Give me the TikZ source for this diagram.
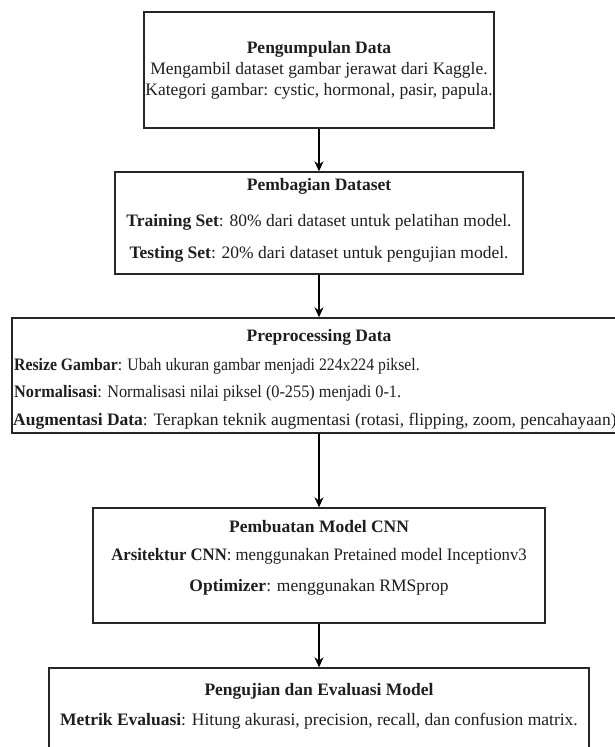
\documentclass[tikz,border=0pt]{standalone}
\usepackage{graphicx}
\usepackage{fontspec}
\setmainfont{Liberation Serif}
\usetikzlibrary{arrows.meta}
\begin{document}
\begin{tikzpicture}[x=1pt,y=-1pt,
  box/.style={draw=black!85,line width=1.4pt,inner sep=0pt,fill=none},
  txt/.style={inner sep=0pt,text height=12pt,text depth=4pt,font=\fontsize{17.5}{21}\selectfont,text=black!88},
  ttl/.style={txt,font=\fontsize{17.5}{21}\selectfont\bfseries},
  lft/.style={txt,anchor=west},
  flow/.style={line width=1.4pt,draw=black,-{Stealth[length=10pt,width=9pt]}}]
\useasboundingbox (0,0) rectangle (615,747);
\fill[white] (0,0) rectangle (615,747);
% boxes
\node[box,minimum width=350pt,minimum height=116pt] (b1) at (319,70) {};
\node[box,minimum width=408pt,minimum height=102pt] (b2) at (319,223) {};
\node[box,minimum width=614pt,minimum height=115pt] (b3) at (319,375.5) {};
\node[box,minimum width=452pt,minimum height=115pt] (b4) at (319,565.5) {};
\node[box,minimum width=540pt,minimum height=104pt] (b5) at (319,720) {};
% box 1
\node[ttl] (t1) at (319,49) {Pengumpulan Data};
\node[txt] (t1a) at (319,70) {Mengambil dataset gambar jerawat dari Kaggle.};
\node[txt] (t1b) at (319,91) {Kategori gambar: cystic, hormonal, pasir, papula.};
% box 2
\node[ttl] (t2) at (319,186) {Pembagian Dataset};
\node[txt] (t2a) at (319,222) {\textbf{Training Set}: 80\% dari dataset untuk pelatihan model.};
\node[txt] (t2b) at (319,254) {\textbf{Testing Set}: 20\% dari dataset untuk pengujian model.};
% box 3
\node[ttl] (t3) at (319,337) {Preprocessing Data};
\node[lft] (t3a) at (14,366) {\scalebox{0.9}[1]{\textbf{Resize Gambar}: Ubah ukuran gambar menjadi 224x224 piksel.}};
\node[lft] (t3b) at (14,393) {\scalebox{0.93}[1]{\textbf{Normalisasi}: Normalisasi nilai piksel (0-255) menjadi 0-1.}};
\node[lft] (t3c) at (13,421) {\textbf{Augmentasi Data}: Terapkan teknik augmentasi (rotasi, flipping, zoom, pencahayaan)};
% box 4
\node[ttl] (t4) at (319,528) {Pembuatan Model CNN};
\node[txt] (t4a) at (319,556) {\scalebox{0.955}[1]{\textbf{Arsitektur CNN}: menggunakan Pretained model Inceptionv3}};
\node[txt] (t4b) at (319,587) {\textbf{Optimizer}: menggunakan RMSprop};
% box 5
\node[ttl] (t5) at (319,691) {Pengujian dan Evaluasi Model};
\node[txt] (t5a) at (319,721) {\textbf{Metrik Evaluasi}: Hitung akurasi, precision, recall, dan confusion matrix.};
% arrows
\draw[flow] (b1.south) -- (b2.north);
\draw[flow] (b2.south) -- (b3.north);
\draw[flow] (b3.south) -- (b4.north);
\draw[flow] (b4.south) -- (b5.north);
\end{tikzpicture}
\end{document}
